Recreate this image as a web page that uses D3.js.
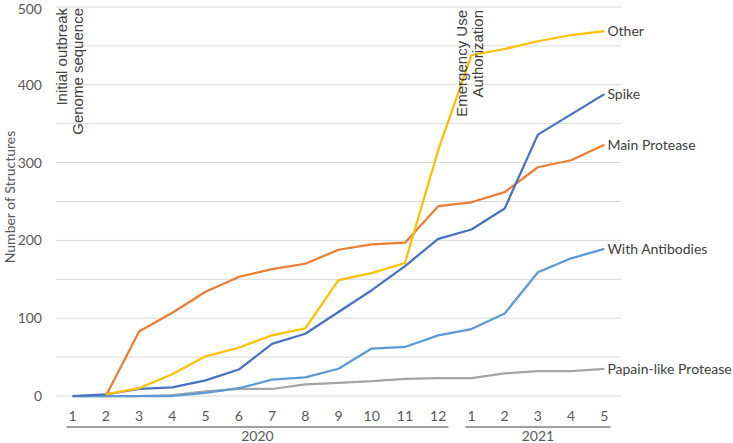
<!DOCTYPE html>
<html>
<head>
<meta charset="utf-8">
<script src="https://cdn.jsdelivr.net/npm/d3@7"></script>
<style>
  body { margin: 0; background: #fff; }
  svg text { font-family: Lato, "Open Sans", sans-serif; }
</style>
</head>
<body>
<div id="chart"></div>
<script>
// months, grouped by year
const months2020 = ["1", "2", "3", "4", "5", "6", "7", "8", "9", "10", "11", "12"]
const months2021 = ["1", "2", "3", "4", "5"]
const years = ["2020", "2021"]

// cumulative structure counts per month (null = no point)
const other      = [null, 2, 10, 28, 51, 62, 78, 87, 149, 158, 171, 316, 438, 446, 456, 464, 469]
const mainProt   = [null, 0, 83, 107, 134, 153, 163, 170, 188, 195, 197, 244, 249, 262, 294, 303, 323]
const spike      = [0, 2, 9, 11, 20, 34, 67, 80, 108, 136, 167, 202, 214, 241, 336, 362, 388]
const antibodies = [0, 0, 0, 0, 4, 10, 21, 24, 35, 61, 63, 78, 86, 106, 159, 177, 189]
const papain     = [0, 0, 0, 1, 6, 9, 9, 15, 17, 19, 22, 23, 23, 29, 32, 32, 35]

const seriesNames = ["Papain-like Protease", "With Antibodies", "Main Protease", "Spike", "Other"]
const seriesValues = [papain, antibodies, mainProt, spike, other]
const seriesColors = ["#A5A5A5", "#5B9BD5", "#ED7D31", "#4472C4", "#FFC000"]

const yTicks = [0, 100, 200, 300, 400, 500]

const width = 733, height = 443
const plotLeft = 56, plotRight = 621, plotTop = 7, plotBottom = 396

const keys = months2020.map((m, i) => "a" + i).concat(months2021.map((m, i) => "b" + i))
const labels = months2020.concat(months2021)

const x = d3.scaleBand().domain(keys).range([plotLeft, plotRight])
const xc = k => x(k) + x.bandwidth() / 2
const y = d3.scaleLinear().domain([0, 500]).range([plotBottom, plotTop])

const svg = d3.select("#chart").append("svg")
  .attr("width", width)
  .attr("height", height)

// gridlines every 50
svg.append("g")
  .selectAll("line")
  .data(d3.range(0, 501, 50))
  .enter().append("line")
  .attr("x1", plotLeft).attr("x2", plotRight)
  .attr("y1", d => y(d)).attr("y2", d => y(d))
  .attr("stroke", "#d9d9d9")
  .attr("stroke-width", 1)

// y tick labels
svg.append("g")
  .selectAll("text")
  .data(yTicks)
  .enter().append("text")
  .attr("x", 42)
  .attr("y", d => Math.max(y(d) + 5, 14))
  .attr("text-anchor", "end")
  .attr("fill", "#595959")
  .style("font-size", "14px")
  .text(d => d)

svg.append("text")
  .attr("transform", "translate(15," + 197 + ") rotate(-90)")
  .attr("text-anchor", "middle")
  .attr("fill", "#595959")
  .style("font-size", "14px")
  .text("Number of Structures")

// x month labels
const monthText = svg.append("g")
  .selectAll("text")
  .data(keys)
  .enter().append("text")
  .attr("x", d => xc(d))
  .attr("y", 421)
  .attr("text-anchor", "middle")
  .attr("fill", "#595959")
  .style("font-size", "14px")
  .text((d, i) => labels[i])

// year groups
const groups = [keys.slice(0, 12), keys.slice(12)]
groups.forEach((g, gi) => {
  const nodes = monthText.filter(d => g.includes(d)).nodes()
  const b0 = nodes[0].getBBox()
  const b1 = nodes[nodes.length - 1].getBBox()
  const x0 = b0.x - 2, x1 = b1.x + b1.width + 2
  svg.append("line")
    .attr("x1", x0).attr("x2", x1)
    .attr("y1", 427).attr("y2", 427)
    .attr("stroke", "#404040")
    .attr("stroke-width", 1.2)
  svg.append("text")
    .attr("x", (x0 + x1) / 2)
    .attr("y", 441)
    .attr("text-anchor", "middle")
    .attr("fill", "#595959")
    .style("font-size", "14px")
    .text(years[gi])
})

// lines
const line = d3.line()
  .defined(d => d[1] != null)
  .x(d => xc(d[0]))
  .y(d => y(d[1]))

seriesValues.forEach((vals, si) => {
  svg.append("path")
    .datum(keys.map((k, i) => [k, vals[i]]))
    .attr("d", line)
    .attr("fill", "none")
    .attr("stroke", seriesColors[si])
    .attr("stroke-width", 2.25)
    .attr("stroke-linejoin", "round")

  const lastKey = keys[keys.length - 1]
  svg.append("text")
    .attr("x", xc(lastKey) + 3)
    .attr("y", y(vals[vals.length - 1]) + 5)
    .attr("fill", "#404040")
    .style("font-size", "14px")
    .text(seriesNames[si])
})

// vertical annotations
const notes = [
  { text: "Initial outbreak", x: 67, y: 8 },
  { text: "Genome sequence", x: 83, y: 8 },
  { text: "Emergency Use", x: 467, y: 10 },
  { text: "Authorization", x: 483, y: 10 }
]
svg.append("g")
  .selectAll("text")
  .data(notes)
  .enter().append("text")
  .attr("transform", d => "translate(" + d.x + "," + d.y + ") rotate(-90)")
  .attr("text-anchor", "end")
  .attr("fill", "#404040")
  .style("font-family", "'Liberation Sans', Arial, sans-serif")
  .style("font-size", "15px")
  .text(d => d.text)
</script>
</body>
</html>
